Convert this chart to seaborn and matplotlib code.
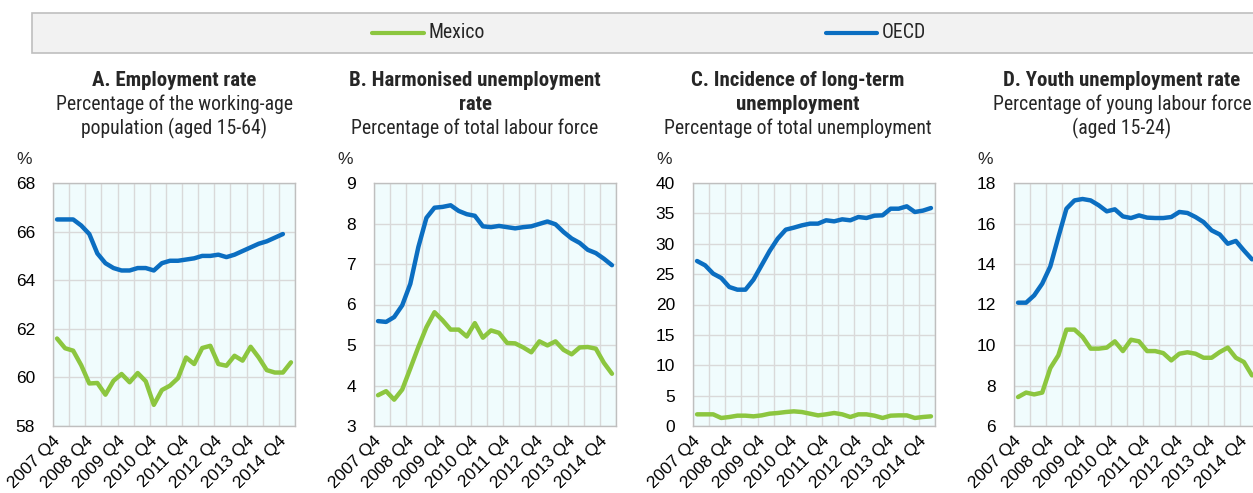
import numpy as np
import pandas as pd
import matplotlib
matplotlib.use("Agg")
import matplotlib.pyplot as plt
from matplotlib import font_manager as fm
from matplotlib.patches import Rectangle
from matplotlib.lines import Line2D
from matplotlib.transforms import ScaledTranslation
import seaborn as sns

# ---------------- data ----------------
quarters = [f"{y} Q{q}" for y in range(2007, 2016) for q in range(1, 5)][3:33]  # 2007 Q4 .. 2015 Q1
tick_labels = ["2007 Q4", "2008 Q4", "2009 Q4", "2010 Q4", "2011 Q4", "2012 Q4", "2013 Q4", "2014 Q4"]

emp_mexico = [61.6, 61.2, 61.1, 60.5, 59.75, 59.77, 59.29, 59.86, 60.14, 59.8, 60.18, 59.84, 58.87, 59.48,
              59.66, 59.97, 60.82, 60.55, 61.21, 61.3, 60.55, 60.48, 60.89, 60.69, 61.26, 60.82, 60.3, 60.2,
              60.2, 60.62]
emp_oecd = [66.5, 66.5, 66.5, 66.25, 65.9, 65.1, 64.7, 64.5, 64.4, 64.4, 64.5, 64.5, 64.4, 64.7, 64.8,
            64.8, 64.85, 64.9, 65.0, 65.0, 65.05, 64.95, 65.05, 65.2, 65.35, 65.5, 65.6, 65.75, 65.9, np.nan]

unemp_mexico = [3.76, 3.86, 3.65, 3.9, 4.42, 4.95, 5.44, 5.81, 5.61, 5.38, 5.38, 5.21, 5.54, 5.18, 5.36,
                5.3, 5.05, 5.04, 4.94, 4.82, 5.09, 4.99, 5.09, 4.88, 4.77, 4.94, 4.95, 4.91, 4.56, 4.29]
unemp_oecd = [5.59, 5.57, 5.69, 5.98, 6.51, 7.42, 8.14, 8.39, 8.41, 8.45, 8.31, 8.23, 8.19, 7.93, 7.91,
              7.94, 7.91, 7.88, 7.91, 7.93, 7.99, 8.05, 7.98, 7.79, 7.63, 7.52, 7.35, 7.27, 7.13, 6.97]

ltu_mexico = [1.92, 1.92, 1.92, 1.32, 1.48, 1.7, 1.7, 1.59, 1.75, 2.03, 2.14, 2.3, 2.41, 2.3, 2.03, 1.75,
              1.92, 2.14, 1.92, 1.48, 1.92, 1.92, 1.7, 1.32, 1.7, 1.75, 1.75, 1.32, 1.48, 1.59]
ltu_oecd = [27.16, 26.45, 25.08, 24.36, 22.88, 22.44, 22.44, 24.09, 26.45, 28.81, 30.84, 32.32, 32.65,
            33.03, 33.31, 33.31, 33.86, 33.69, 34.02, 33.86, 34.4, 34.24, 34.62, 34.68, 35.77, 35.77,
            36.16, 35.23, 35.45, 35.88]

youth_mexico = [7.43, 7.65, 7.56, 7.65, 8.86, 9.49, 10.76, 10.76, 10.4, 9.82, 9.82, 9.87, 10.18, 9.7,
                10.26, 10.18, 9.7, 9.7, 9.6, 9.24, 9.57, 9.64, 9.57, 9.37, 9.37, 9.65, 9.87, 9.37, 9.16, 8.5]
youth_oecd = [12.09, 12.09, 12.45, 13.03, 13.88, 15.33, 16.73, 17.14, 17.21, 17.14, 16.9, 16.6, 16.7,
              16.35, 16.27, 16.4, 16.29, 16.27, 16.27, 16.32, 16.57, 16.52, 16.32, 16.07, 15.66, 15.46,
              15.0, 15.14, 14.67, 14.23]

series_names = ["Mexico", "OECD"]
panel_titles_bold = [["A. Employment rate"],
                     ["B. Harmonised unemployment", "rate"],
                     ["C. Incidence of long-term", "unemployment"],
                     ["D. Youth unemployment rate"]]
panel_titles_reg = [["Percentage of the working-age", "population (aged 15-64)"],
                    ["Percentage of total labour force"],
                    ["Percentage of total unemployment"],
                    ["Percentage of young labour force", "(aged 15-24)"]]
y_ranges = [(58, 68, 2), (3, 9, 1), (0, 40, 5), (6, 18, 2)]

panels = [(emp_mexico, emp_oecd), (unemp_mexico, unemp_oecd), (ltu_mexico, ltu_oecd),
          (youth_mexico, youth_oecd)]

# ---------------- style ----------------
sns.set_style("white")
names = {f.name for f in fm.fontManager.ttflist}
NARROW = None
for cand in ["Liberation Sans Narrow", "Arial Narrow", "Roboto Condensed", "Open Sans Condensed",
             "Noto Sans Condensed", "DejaVu Sans Condensed"]:
    if cand in names:
        NARROW = cand
        break
REG = "Liberation Sans" if "Liberation Sans" in names else "DejaVu Sans"
if NARROW is None:
    NARROW = REG
    BSIZE, RSIZE = 12.6, 12.0
else:
    BSIZE, RSIZE = 15.0, 14.2
plt.rcParams["font.family"] = [REG, "DejaVu Sans"]

COL_MEX = "#8CC63F"
COL_OECD = "#0B6EC1"
palette = {"Mexico": COL_MEX, "OECD": COL_OECD}

W, H = 1253, 493
fig = plt.figure(figsize=(W / 100, H / 100), dpi=100)

def fx(px):
    return px / W

def fy(py):
    return 1 - py / H

# legend box
fig.add_artist(Rectangle((fx(32), fy(53)), fx(1260) - fx(32), fy(13) - fy(53),
                         transform=fig.transFigure, facecolor="#F2F2F2", edgecolor="#BFBFBF", lw=1.2))
for name, x0, x1, tx in [("Mexico", 372, 424, 429), ("OECD", 826, 877, 882)]:
    fig.add_artist(Line2D([fx(x0), fx(x1)], [fy(33), fy(33)], transform=fig.transFigure,
                          color=palette[name], lw=3))
    fig.text(fx(tx), fy(33), name, ha="left", va="center", fontsize=RSIZE, family=[NARROW, "DejaVu Sans"])

ax_lefts = [53, 374, 693, 1014]
ax_width = 242
ax_top, ax_bottom = 183, 426
title_cx = [174.5, 475, 798, 1122]
baselines = [86, 110, 134]
shift = ScaledTranslation(1 / 100, 0, fig.dpi_scale_trans)

for k in range(4):
    left = ax_lefts[k]
    ax = fig.add_axes([fx(left), fy(ax_bottom), fx(ax_width), fy(ax_top) - fy(ax_bottom)])
    mex, oecd = panels[k]
    df = pd.DataFrame({
        "x": list(range(len(quarters))) * 2,
        "value": list(mex) + list(oecd),
        "series": ["Mexico"] * len(quarters) + ["OECD"] * len(quarters),
    })
    sns.lineplot(data=df, x="x", y="value", hue="series", palette=palette, ax=ax,
                 lw=3.2, legend=False, sort=False)
    ax.set_facecolor("#F0FCFD")
    lo, hi, st = y_ranges[k]
    ax.set_ylim(lo, hi)
    ax.set_yticks(np.arange(lo, hi + st / 2, st))
    ax.set_xlim(-0.5, len(quarters) - 0.5)
    ax.set_xticks([quarters.index(t) for t in tick_labels])
    ax.set_xticklabels(tick_labels, rotation=45, ha="right", va="center", rotation_mode="anchor")
    ax.set_xticks(np.arange(-0.5, len(quarters), 2), minor=True)
    ax.grid(False)
    ax.grid(True, which="minor", axis="x", color="#D9D9D9", lw=1)
    ax.grid(True, which="major", axis="y", color="#D9D9D9", lw=1)
    ax.set_axisbelow(True)
    ax.tick_params(axis="both", which="both", length=0, labelsize=12.5, colors="#000000")
    ax.tick_params(axis="y", pad=13)
    ax.tick_params(axis="x", pad=9)
    for lab in ax.get_xticklabels():
        lab.set_transform(lab.get_transform() + shift)
    ax.set_xlabel("")
    ax.set_ylabel("")
    for sp in ax.spines.values():
        sp.set_color("#BFBFBF")
        sp.set_linewidth(1)
    fig.text(fx(left - 28.5), fy(160), "%", ha="center", va="center", fontsize=12.5)

    lines = [(t, "bold", BSIZE) for t in panel_titles_bold[k]] + \
            [(t, "normal", RSIZE) for t in panel_titles_reg[k]]
    for i, (t, wgt, sz) in enumerate(lines):
        fig.text(fx(title_cx[k]), fy(baselines[i]), t, ha="center", va="baseline", fontsize=sz,
                 fontweight=wgt, family=[NARROW, "DejaVu Sans"])

fig.savefig("out.png", dpi=100)
